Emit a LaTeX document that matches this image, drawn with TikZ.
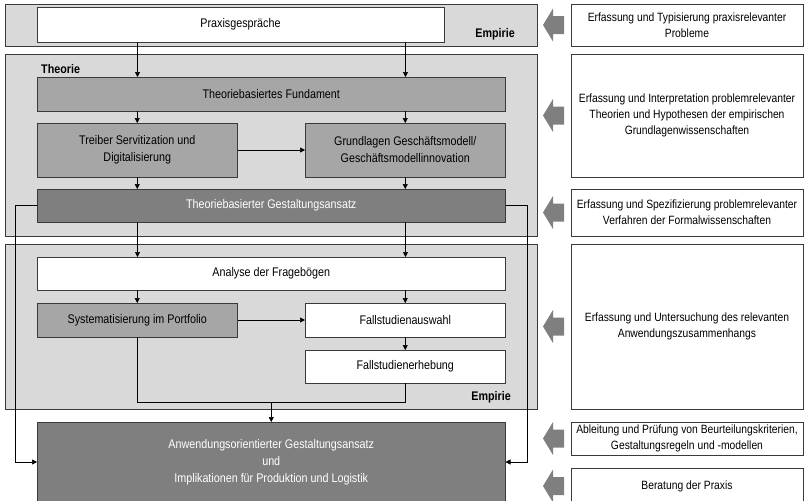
\documentclass[tikz,border=0pt]{standalone}
\usepackage{fontspec}
\setmainfont{Liberation Sans}[FakeStretch=0.86]
\usetikzlibrary{arrows.meta}
\definecolor{panelgray}{HTML}{D9D9D9}
\definecolor{midgray}{HTML}{A6A6A6}
\definecolor{darkfill}{HTML}{7F7F7F}
\definecolor{edge}{HTML}{3A3A3A}
\newcommand\blockarrow[1]{\fill[darkfill] ([xshift=-28pt]#1.west) -- ++(10,-16.5) -- ++(0,7.5) -- ++(11,0) -- ++(0,18) -- ++(-11,0) -- ++(0,7.5) -- cycle;}
\begin{document}
\begin{tikzpicture}[x=1pt,y=-1pt,
  wh/.style 2 args={minimum width=#1, minimum height=#2},
  panel/.style={draw=edge, line width=0.8pt, fill=panelgray, anchor=north west, inner sep=0pt, outer sep=0pt},
  box/.style={draw=edge, line width=0.8pt, fill=white, anchor=north west, inner sep=0pt, outer sep=0pt, align=center, font=\fontsize{12.5}{17}\selectfont},
  mbox/.style={box, fill=midgray},
  dbox/.style={box, fill=darkfill, text=white},
  rbox/.style={box, font=\fontsize{12}{16}\selectfont},
  lbl/.style={font=\fontsize{12.5}{15}\selectfont\bfseries, inner sep=0pt},
  arr/.style={-{Triangle[length=5pt,width=5pt]}, line width=0.7pt, black},
  ln/.style={line width=0.7pt, black},
]
\useasboundingbox (0,0) rectangle (804,501);
\clip (0,0) rectangle (804,501);

% panels
\node[panel, wh={532}{42}] (pE1) at (5,4) {};
\node[panel, wh={532}{182}] (pT) at (5,54) {};
\node[panel, wh={532}{165}] (pE2) at (5,244) {};

\node[lbl, anchor=east] (lE1) at (515,34) {Empirie};
\node[lbl, anchor=west] (lT) at (41,69) {Theorie};
\node[lbl, anchor=east] (lE2) at (511,397) {Empirie};

% boxes
\node[box, wh={407}{35}] (praxis) at (37,7) {Praxisgespräche};
\node[mbox, wh={468.5}{34}] (fund) at (37,77) {Theoriebasiertes Fundament};
\node[mbox, wh={200.5}{54}] (treiber) at (37,123) {Treiber Servitization und\\Digitalisierung};
\node[mbox, wh={200.5}{54}] (grund) at (305,123) {Grundlagen Geschäftsmodell/\\Geschäftsmodellinnovation};
\node[dbox, wh={468.5}{33}] (tg) at (37,189) {Theoriebasierter Gestaltungsansatz};
\node[box, wh={468.5}{33}] (ana) at (37,257) {Analyse der Fragebögen};
\node[mbox, wh={200.5}{34}] (sys) at (37,303) {Systematisierung im Portfolio};
\node[box, wh={200.5}{34}] (fwahl) at (305,303) {Fallstudienauswahl};
\node[box, wh={200.5}{33}] (ferh) at (305,350) {Fallstudienerhebung};
\node[dbox, wh={468.5}{80}] (final) at (37,422) {Anwendungsorientierter Gestaltungsansatz\\und\\Implikationen für Produktion und Logistik};

% right column
\node[rbox, wh={232}{42}] (r1) at (571,4) {Erfassung und Typisierung praxisrelevanter\\Probleme};
\node[rbox, wh={232}{123}] (r2) at (571,54) {Erfassung und Interpretation problemrelevanter\\Theorien und Hypothesen der empirischen\\Grundlagenwissenschaften};
\node[rbox, wh={232}{47}] (r3) at (571,189) {Erfassung und Spezifizierung problemrelevanter\\Verfahren der Formalwissenschaften};
\node[rbox, wh={232}{165}] (r4) at (571,244) {Erfassung und Untersuchung des relevanten\\Anwendungszusammenhangs};
\node[rbox, wh={232}{33}] (r5) at (571,422) {Ableitung und Prüfung von Beurteilungskriterien,\\Gestaltungsregeln und -modellen};
\node[rbox, wh={232}{36}] (r6) at (571,468) {Beratung der Praxis};

\blockarrow{r1}
\blockarrow{r2}
\blockarrow{r3}
\blockarrow{r4}
\blockarrow{r5}
\blockarrow{r6}

% connectors
\coordinate (cL) at (137.5,0);
\coordinate (cR) at (405.5,0);
\coordinate (lx) at (15.5,0);
\coordinate (rx) at (527,0);
\draw[arr] (praxis.south -| cL) -- (fund.north -| cL);
\draw[arr] (praxis.south -| cR) -- (fund.north -| cR);
\draw[arr] (fund.south -| treiber.north) -- (treiber.north);
\draw[arr] (fund.south -| grund.north) -- (grund.north);
\draw[arr] (treiber.east) -- (grund.west);
\draw[arr] (treiber.south) -- (tg.north -| treiber.south);
\draw[arr] (grund.south) -- (tg.north -| grund.south);
\draw[arr] (tg.south -| cL) -- (ana.north -| cL);
\draw[arr] (tg.south -| cR) -- (ana.north -| cR);
\draw[arr] (ana.south -| sys.north) -- (sys.north);
\draw[arr] (ana.south -| fwahl.north) -- (fwahl.north);
\draw[arr] (sys.east) -- (fwahl.west);
\draw[arr] (fwahl.south) -- (ferh.north);
\path (final.north) ++(0,-19.3) coordinate (join);
\draw[ln] (sys.south) |- (join) -| (ferh.south);
\draw[arr] (join) -- (final.north);
\draw[arr] (tg.west) -- (tg.west -| lx) |- (final.west);
\draw[arr] (tg.east) -- (tg.east -| rx) |- (final.east);
\end{tikzpicture}
\end{document}
